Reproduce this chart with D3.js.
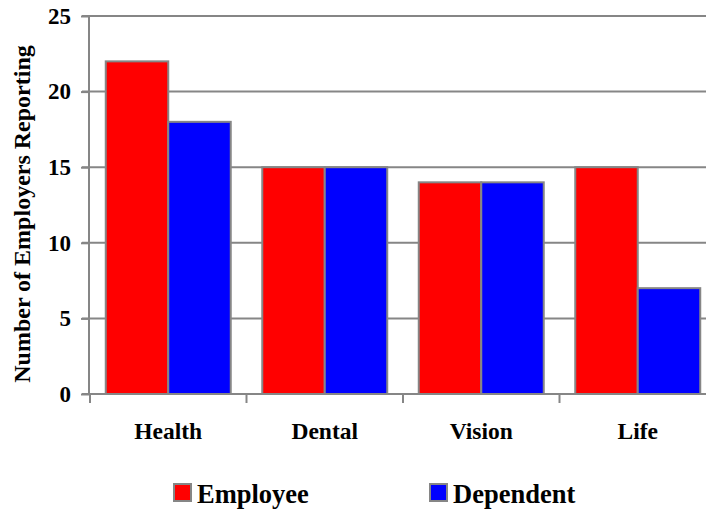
<!DOCTYPE html>
<html>
<head>
<meta charset="utf-8">
<script src="https://cdn.jsdelivr.net/npm/d3@7"></script>
<style>
  html, body { margin: 0; padding: 0; background: #fff; }
  svg { display: block; font-family: "Liberation Serif", "Times New Roman", serif; font-weight: bold; }
</style>
</head>
<body>
<div id="container"></div>
<script>
// Chart data
const categories = ["Health", "Dental", "Vision", "Life"];
const seriesNames = ["Employee", "Dependent"];
const employee = [22, 15, 14, 15];
const dependent = [18, 15, 14, 7];
const yTicks = [0, 5, 10, 15, 20, 25];

const colors = { Employee: "#ff0000", Dependent: "#0000ff" };
const gray = "#868686";

const width = 706;
const height = 510;
const marginTop = 16;
const marginLeft = 90;
const plotRight = 716; // plot area runs past the right edge
const plotBottom = 394;

const svg = d3.create("svg").attr("width", width).attr("height", height);

// Scales
const x = d3.scaleBand().domain(categories).range([marginLeft, plotRight]).padding(0);
const xs = d3.scaleBand().domain(seriesNames).range([0, x.bandwidth()])
  .paddingInner(0).paddingOuter(0.252);
const y = d3.scaleLinear().domain([0, 25]).range([plotBottom, marginTop]);

// Gridlines
svg.append("g")
  .selectAll("line")
  .data(yTicks.filter(d => d > 0))
  .join("line")
  .attr("x1", marginLeft - 8)
  .attr("x2", plotRight)
  .attr("y1", d => y(d))
  .attr("y2", d => y(d))
  .attr("stroke", gray)
  .attr("stroke-width", 2);

// Bars
const rows = categories.map((c, i) => ({ cat: c, Employee: employee[i], Dependent: dependent[i] }));
svg.append("g")
  .selectAll("g")
  .data(rows)
  .join("g")
  .attr("transform", d => `translate(${x(d.cat)},0)`)
  .selectAll("rect")
  .data(d => seriesNames.map(s => ({ key: s, value: d[s] })))
  .join("rect")
  .attr("x", d => xs(d.key))
  .attr("y", d => y(d.value))
  .attr("width", xs.bandwidth())
  .attr("height", d => y(0) - y(d.value))
  .attr("fill", d => colors[d.key])
  .attr("stroke", gray)
  .attr("stroke-width", 2);

// Y axis
const yAxis = svg.append("g")
  .attr("transform", `translate(${marginLeft - 1},0)`)
  .call(d3.axisLeft(y).tickValues(yTicks).tickSize(8).tickPadding(10));
yAxis.selectAll("line, path").attr("stroke", gray).attr("stroke-width", 2);
yAxis.select(".domain").attr("d", `M0,${y(25)}V${y(0)}`);
yAxis.selectAll("text")
  .attr("fill", "#000")
  .style("font-size", "23px")
  .style("font-family", "Liberation Serif, serif")
  .style("font-weight", "bold");

// X axis
const xAxis = svg.append("g")
  .attr("transform", `translate(0,${plotBottom})`);
xAxis.append("line")
  .attr("x1", marginLeft - 8).attr("x2", plotRight)
  .attr("stroke", gray).attr("stroke-width", 2);
xAxis.selectAll(".tk")
  .data(categories)
  .join("line")
  .attr("class", "tk")
  .attr("x1", d => x(d)).attr("x2", d => x(d))
  .attr("y1", 0).attr("y2", 9)
  .attr("stroke", gray).attr("stroke-width", 2);
xAxis.selectAll("text")
  .data(categories)
  .join("text")
  .attr("x", d => x(d) + x.bandwidth() / 2)
  .attr("y", 45)
  .attr("text-anchor", "middle")
  .style("font-size", "23.5px")
  .text(d => d);

// Y axis title
svg.append("text")
  .attr("transform", `translate(30,214) rotate(-90)`)
  .attr("text-anchor", "middle")
  .style("font-size", "24px")
  .text("Number of Employers Reporting");

// Legend
const legendX = [174, 430];
const legend = svg.append("g")
  .selectAll("g")
  .data(seriesNames)
  .join("g")
  .attr("transform", (d, i) => `translate(${legendX[i]},484)`);
legend.append("rect")
  .attr("width", 17).attr("height", 17)
  .attr("fill", d => colors[d])
  .attr("stroke", gray).attr("stroke-width", 2);
legend.append("text")
  .attr("x", 23)
  .attr("y", 19)
  .style("font-size", "26.5px")
  .text(d => d);

document.getElementById("container").append(svg.node());
</script>
</body>
</html>
